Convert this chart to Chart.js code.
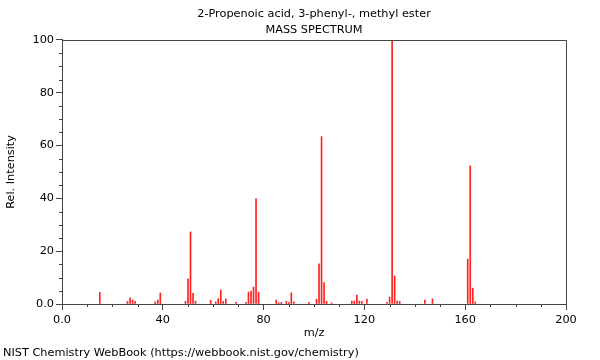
<!DOCTYPE html>
<html>
<head>
<meta charset="utf-8">
<script src="https://cdn.jsdelivr.net/npm/chart.js@4.4.1/dist/chart.umd.min.js"></script>
<style>
  html, body { margin: 0; padding: 0; background: #fff; }
  #wrap { position: relative; width: 600px; height: 360px; }
  #footer { position: absolute; left: 3px; top: 346px; font: 11.3px "DejaVu Sans", sans-serif; color: #000; line-height: 13px; white-space: nowrap; }
</style>
</head>
<body>
<div id="wrap">
  <canvas id="c" width="600" height="360"></canvas>
  <div id="footer">NIST Chemistry WebBook (https://webbook.nist.gov/chemistry)</div>
</div>
<script>
const chartTitle = "2-Propenoic acid, 3-phenyl-, methyl ester";
const chartSubtitle = "MASS SPECTRUM";
const xLabel = "m/z";
const yLabel = "Rel. Intensity";

const mz = [15, 26, 27, 28, 29, 37, 38, 39, 49, 50, 51, 52, 53, 59, 61, 62, 63, 64, 65, 69,
            73, 74, 75, 76, 77, 78, 85, 86, 87, 89, 90, 91, 92, 98, 101, 102, 103, 104, 105, 107,
            115, 116, 117, 118, 119, 121, 129, 130, 131, 132, 133, 134, 144, 147, 161, 162, 163, 164];
const intensity = [4.4, 1.0, 2.3, 1.5, 1.0, 0.8, 1.5, 4.2, 1.0, 9.5, 27.3, 4.0, 1.1, 1.4, 0.8, 2.0, 5.3, 1.0, 1.9, 0.6,
                   0.6, 4.5, 4.9, 6.4, 39.8, 4.5, 1.5, 0.5, 0.6, 1.0, 0.6, 4.2, 0.8, 0.6, 1.8, 15.2, 63.4, 8.1, 1.0, 0.4,
                   1.1, 1.1, 3.4, 1.1, 1.0, 1.9, 0.6, 2.6, 100, 10.6, 1.1, 1.0, 1.5, 1.9, 17.0, 52.3, 6.0, 0.8];

const xTicksMajor = [0, 40, 80, 120, 160, 200];
const yTicksMajor = [0, 20, 40, 60, 80, 100];
const xMinorStep = 10;
const yMinorStep = 5;

const axisColor = '#444';

Chart.defaults.font.family = '"DejaVu Sans", sans-serif';
Chart.defaults.font.size = 11.3;
Chart.defaults.color = '#000';

const frameAndMinor = {
  id: 'frameAndMinor',
  afterDraw(chart) {
    const ctx = chart.ctx;
    const a = chart.chartArea;
    const xs = chart.scales.x, ys = chart.scales.y;
    ctx.save();
    ctx.strokeStyle = axisColor;
    ctx.lineWidth = 1;
    ctx.beginPath();
    ctx.moveTo(Math.round(a.left) + 0.5, Math.round(a.top) + 0.5);
    ctx.lineTo(Math.round(a.right) + 0.5, Math.round(a.top) + 0.5);
    ctx.lineTo(Math.round(a.right) + 0.5, Math.round(a.bottom) + 0.5);
    ctx.stroke();
    ctx.beginPath();
    for (let v = xs.min; v <= xs.max; v += xMinorStep) {
      if (xTicksMajor.includes(v)) continue;
      const px = Math.round(xs.getPixelForValue(v)) + 0.5;
      ctx.moveTo(px, Math.round(a.bottom));
      ctx.lineTo(px, Math.round(a.bottom) + 3);
    }
    for (let v = ys.min; v <= ys.max; v += yMinorStep) {
      if (yTicksMajor.includes(v)) continue;
      const py = Math.round(ys.getPixelForValue(v)) + 0.5;
      ctx.moveTo(Math.round(a.left), py);
      ctx.lineTo(Math.round(a.left) - 3, py);
    }
    ctx.stroke();
    ctx.restore();
  }
};

new Chart(document.getElementById('c'), {
  type: 'bar',
  data: {
    datasets: [{
      data: mz.map((m, i) => ({ x: m, y: intensity[i] })),
      backgroundColor: '#ff2020',
      borderWidth: 0,
      barThickness: 1
    }]
  },
  options: {
    responsive: false,
    animation: false,
    layout: { padding: { top: 0, right: 34, bottom: 16, left: 0 } },
    plugins: {
      legend: { display: false },
      tooltip: { enabled: false },
      title: {
        display: true, text: chartTitle, fullSize: false,
        font: { size: 11.3, weight: 'normal' }, color: '#000',
        padding: { top: 7, bottom: 3 }
      },
      subtitle: {
        display: true, text: chartSubtitle, fullSize: false,
        font: { size: 11.3, weight: 'normal' }, color: '#000',
        padding: { top: 0, bottom: 2.8 }
      }
    },
    scales: {
      x: {
        type: 'linear', min: 0, max: 200, offset: false,
        afterFit(s) { s.height = 40; },
        afterBuildTicks(s) { s.ticks = xTicksMajor.map(v => ({ value: v })); },
        ticks: { padding: 3, maxRotation: 0, autoSkip: false,
                 callback: v => v === 0 ? '0.0' : String(v) },
        grid: { offset: false, drawOnChartArea: false, drawTicks: true, tickLength: 6, color: axisColor },
        border: { display: true, color: axisColor },
        title: { display: true, text: xLabel, padding: { top: 0, bottom: 4 }, font: { size: 11.3 } }
      },
      y: {
        type: 'linear', min: 0, max: 100,
        afterFit(s) { s.width = 62; },
        afterBuildTicks(s) { s.ticks = yTicksMajor.map(v => ({ value: v })); },
        ticks: { padding: 2, autoSkip: false,
                 callback: v => v === 0 ? '0.0' : String(v) },
        grid: { drawOnChartArea: false, drawTicks: true, tickLength: 6, color: axisColor },
        border: { display: true, color: axisColor },
        title: { display: true, text: yLabel, padding: { top: 4, bottom: 0 }, font: { size: 11.3 } }
      }
    }
  },
  plugins: [frameAndMinor]
});
</script>
</body>
</html>
